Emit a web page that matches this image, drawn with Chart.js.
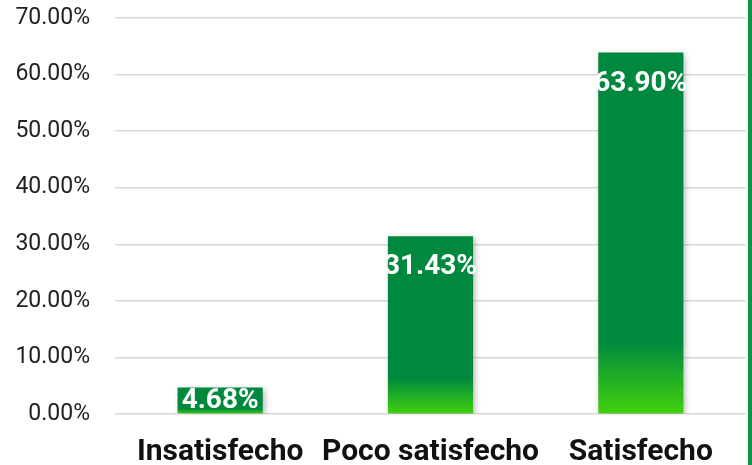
<!DOCTYPE html>
<html>
<head>
<meta charset="utf-8">
<script src="https://cdn.jsdelivr.net/npm/chart.js@4"></script>
<style>
html,body{margin:0;padding:0;background:#fff;}
#wrap{position:relative;width:752px;height:465px;}
#edge{position:absolute;left:748px;top:0;width:4px;height:465px;background:#0a9444;}
canvas{display:block;}
</style>
</head>
<body>
<div id="wrap">
<canvas id="c" width="752" height="465"></canvas>
<div id="edge"></div>
</div>
<script>
const categories = ["Insatisfecho", "Poco satisfecho", "Satisfecho"];
const values = [4.68, 31.43, 63.90];
const yTicks = [0, 10, 20, 30, 40, 50, 60, 70];

const DARK = "rgb(0,137,62)";
const LIGHT = "rgb(66,210,14)";
const FONT = "Roboto, 'Liberation Sans', sans-serif";

function barGradient(ctx) {
  const chart = ctx.chart;
  if (!chart.chartArea || ctx.raw === undefined) return DARK;
  const ys = chart.scales.y;
  const top = ys.getPixelForValue(ctx.raw);
  const bottom = ys.getPixelForValue(0);
  if (!isFinite(top) || !isFinite(bottom) || bottom - top < 1) return DARK;
  const g = chart.ctx.createLinearGradient(0, top, 0, bottom);
  g.addColorStop(0, DARK);
  g.addColorStop(0.8, DARK);
  g.addColorStop(1, LIGHT);
  return g;
}

const shadowPlugin = {
  id: "barShadow",
  beforeDatasetsDraw(chart) {
    const c = chart.ctx;
    c.save();
    c.shadowColor = "rgba(0,0,0,0.28)";
    c.shadowBlur = 6;
    c.shadowOffsetX = 2;
    c.shadowOffsetY = 2;
  },
  afterDatasetsDraw(chart) {
    chart.ctx.restore();
  }
};

const labelPlugin = {
  id: "valueLabels",
  afterDatasetsDraw(chart) {
    const c = chart.ctx;
    const meta = chart.getDatasetMeta(0);
    c.save();
    c.shadowColor = "transparent";
    c.fillStyle = "#ffffff";
    c.font = "bold 28px " + FONT;
    c.textAlign = "center";
    c.textBaseline = "middle";
    meta.data.forEach((bar, i) => {
      const h = bar.base - bar.y;
      const y = h > 50 ? bar.y + 30 : (bar.y + bar.base) / 2;
      c.fillText(values[i].toFixed(2) + "%", bar.x, y + 1);
    });
    c.restore();
  }
};

new Chart(document.getElementById("c"), {
  type: "bar",
  data: {
    labels: categories,
    datasets: [{
      data: values,
      backgroundColor: barGradient,
      borderWidth: 0,
      barPercentage: 0.81,
      categoryPercentage: 0.5
    }]
  },
  options: {
    responsive: false,
    animation: false,
    devicePixelRatio: 1,
    layout: { padding: { top: 18, right: 6, left: 0, bottom: 0 } },
    plugins: { legend: { display: false }, tooltip: { enabled: false } },
    scales: {
      y: {
        min: 0,
        max: 70,
        afterBuildTicks(scale) { scale.ticks = yTicks.map(v => ({ value: v })); },
        afterFit(scale) { scale.width = 115; scale.paddingTop = 0; scale.paddingBottom = 0; },
        border: { display: false },
        grid: { color: "#d9d9d9", lineWidth: 1.5, drawTicks: false },
        ticks: {
          padding: 25,
          color: "#222",
          font: { family: FONT, size: 23, weight: 400 },
          callback: v => v.toFixed(2) + "%"
        }
      },
      x: {
        afterFit(scale) { scale.height = 51; scale.paddingLeft = 0; scale.paddingRight = 0; },
        border: { display: false },
        grid: { display: false, drawTicks: false },
        ticks: {
          padding: 20,
          maxRotation: 0,
          minRotation: 0,
          autoSkip: false,
          color: "#111",
          font: { family: FONT, size: 30, weight: "bold" }
        }
      }
    }
  },
  plugins: [shadowPlugin, labelPlugin]
});
</script>
</body>
</html>
